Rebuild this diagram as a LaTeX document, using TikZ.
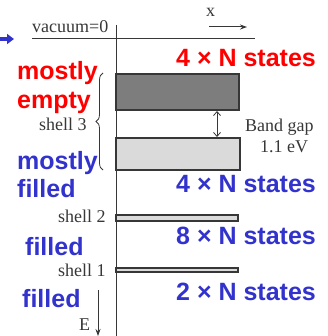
\documentclass[tikz,border=0pt]{standalone}
\usepackage{fontspec}
\setmainfont{Liberation Serif}
\newfontfamily\labelsans{Liberation Sans}
\usetikzlibrary{arrows.meta,decorations.pathreplacing}
\definecolor{myred}{RGB}{255,0,0}
\definecolor{myblue}{RGB}{50,50,205}
\definecolor{ink}{RGB}{55,55,55}
\definecolor{darkband}{RGB}{125,125,125}
\definecolor{lightband}{RGB}{218,218,218}
\begin{document}
\begin{tikzpicture}[x=1pt,y=-1pt,
  big/.style={font=\labelsans\bfseries\fontsize{25}{28}\selectfont, inner sep=0pt, anchor=base west},
  redtxt/.style={big, text=myred},
  bluetxt/.style={big, text=myblue},
  serif/.style={font=\fontsize{18}{20}\selectfont, text=ink, inner sep=0pt, anchor=base west},
  band/.style={draw=ink, line width=1.3pt},
  axis/.style={draw=ink, line width=1pt}]
\useasboundingbox (0,0) rectangle (327,336);
% axes
\coordinate (vtop) at (116,25);
\coordinate (vbot) at (116,336);
\draw[axis] (vtop) -- (vbot);
\coordinate (vl) at (32,39);
\coordinate (vr) at (255,39);
\draw[axis] (vl) -- (vr);
\node[serif] (vac) at (32,33) {vacuum=0};
\node[serif] (xl) at (206,17) {x};
\coordinate (xa) at (209,27);
\coordinate (xb) at (247,27);
\draw[axis, -{Stealth[length=7pt,width=5pt]}] (xa) -- (xb);
% blue pointer
\coordinate (pa) at (0,39);
\coordinate (pb) at (14,39);
\draw[myblue, line width=3.5pt, -{Triangle[length=7pt,width=10pt]}] (pa) -- (pb);
% bands
\draw[band, fill=darkband] (116,74) rectangle (239,110);
\draw[band, fill=lightband] (116,138) rectangle (240,170);
\draw[band, fill=lightband] (116,215) rectangle (238,221);
\draw[band, fill=lightband] (116,268) rectangle (238,272);
% band gap arrow
\coordinate (ga) at (217,111);
\coordinate (gb) at (217,137);
\draw[ink, line width=0.8pt, {Straight Barb[length=4pt,width=7pt]}-{Straight Barb[length=4pt,width=7pt]}] (ga) -- (gb);
\node[serif] (bg) at (245,132) {Band gap};
\node[serif] (ev) at (260,153) {1.1 eV};
% brace
\coordinate (ba) at (103,170);
\coordinate (bb) at (103,73);
\draw[ink, line width=0.8pt, decorate, decoration={brace, amplitude=7pt}] (ba) -- (bb);
% shell labels
\node[serif] (s3) at (39,131) {shell 3};
\node[serif] (s2) at (58,222) {shell 2};
\node[serif] (s1) at (58,276) {shell 1};
\node[serif] (E) at (79,330) {E};
\coordinate (ea) at (98,290);
\coordinate (eb) at (98,336);
\draw[ink, line width=0.8pt, -{Stealth[length=7pt,width=5pt]}] (ea) -- (eb);
% colored labels
\node[redtxt] (me) at (17,80) {mostly};
\node[redtxt] (em) at (17,109) {empty};
\node[bluetxt] (mf) at (17,170) {mostly};
\node[bluetxt] (f3) at (17,197) {filled};
\node[bluetxt] (f2) at (25,255) {filled};
\node[bluetxt] (f1) at (22,307) {filled};
\node[redtxt] (n4a) at (176,67) {4 × N states};
\node[bluetxt] (n4b) at (176,193) {4 × N states};
\node[bluetxt] (n8) at (176,244) {8 × N states};
\node[bluetxt] (n2) at (176,300) {2 × N states};
\end{tikzpicture}
\end{document}
